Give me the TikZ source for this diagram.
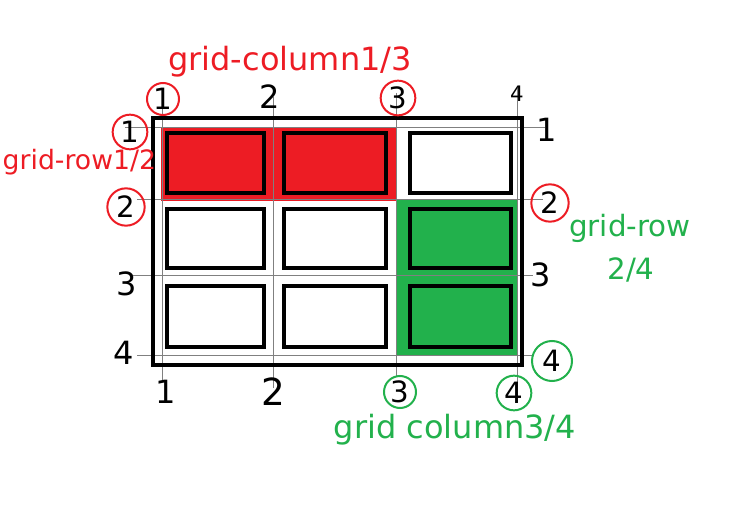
\documentclass[tikz,border=0pt]{standalone}
\usepackage{fontspec}
\setmainfont{DejaVu Sans}
\usetikzlibrary{calc}
\definecolor{paintred}{RGB}{237,28,36}
\definecolor{paintgreen}{RGB}{34,177,76}
\tikzset{
  gridline/.style={gray,line width=0.75pt},
  cellbox/.style={black,line width=2.5pt},
  num/.style={font=\fontsize{24}{24}\selectfont,inner sep=0pt},
  ring/.style 2 args={circle,draw=#1,line width=1.5pt,minimum size=#2},
  note/.style={font=\fontsize{#1}{#1}\selectfont}
}

\begin{document}
\begin{tikzpicture}[x=0.75pt,y=-0.75pt]
\useasboundingbox (0,0) rectangle (729,506);

\fill[paintred] (161,128) rectangle (396,201);
\fill[paintgreen] (396,199) rectangle (517,355);

\foreach \i/\x/\ya/\yb in {1/162/92/380,2/273/97/388,3/396/93/377,4/517/88/383}{
  \coordinate (v\i top) at (\x,\ya);
  \coordinate (v\i bot) at (\x,\yb);
  \draw[gridline] (v\i top) -- (v\i bot);
}
\foreach \i/\y/\xa/\xb in {1/128/125/545,2/200/137/543,3/276/133/533,4/355/137/533}{
  \coordinate (h\i left) at (\xa,\y);
  \coordinate (h\i right) at (\xb,\y);
  \draw[gridline] (h\i left) -- (h\i right);
}

\foreach \xa/\xb in {167/264,284/386,410/511}
  \foreach \ya/\yb in {133/193,209/268,286/347}
    \draw[cellbox] (\xa,\ya) rectangle (\xb,\yb);

\draw[black,line width=3pt] (153,118) rectangle (522,365);

\node[num,font=\fontsize{22}{22}\selectfont,ring={paintred}{24pt}] (t1) at (163,99) {1};
\node[num] (t2) at (270,97) {2};
\node[num,font=\fontsize{22}{22}\selectfont,ring={paintred}{26pt}] (t3) at (398,98) {3};
\node[num,font=\fontsize{16}{16}\selectfont] (t4) at (517,94) {4};

\node[num,font=\fontsize{22}{22}\selectfont,ring={paintred}{26pt}] (l1) at (130,132) {1};
\node[num,font=\fontsize{22}{22}\selectfont,ring={paintred}{28pt}] (l2) at (126,207) {2};
\node[num] (l3) at (127,284) {3};
\node[num] (l4) at (124,353) {4};

\node[num] (r1) at (547,130) {1};
\node[num,font=\fontsize{22}{22}\selectfont,ring={paintred}{28pt}] (r2) at (550,203) {2};
\node[num] (r3) at (541,275) {3};
\node[num,font=\fontsize{22}{22}\selectfont,ring={paintgreen}{30pt}] (r4) at (552,361) {4};

\node[num] (b1) at (166,392) {1};
\node[num,font=\fontsize{28}{28}\selectfont] (b2) at (273,392) {2};
\node[num,font=\fontsize{22}{22}\selectfont,ring={paintgreen}{24pt}] (b3) at (400,392) {3};
\node[num,font=\fontsize{22}{22}\selectfont,ring={paintgreen}{26pt}] (b4) at (514,393) {4};

\node[note=24,text=paintred] (colred) at (290,62) {grid-column1/3};
\node[note=20,text=paintred,anchor=west] (rowred) at (-2,162) {grid-row1/2};
\node[note=22,text=paintgreen] (rowgreen) at (630,228) {grid-row};
\node[note=22,text=paintgreen] (rowgreenval) at (631,270) {2/4};
\node[note=24,text=paintgreen] (colgreen) at (455,430) {grid column3/4};
\end{tikzpicture}
\end{document}
